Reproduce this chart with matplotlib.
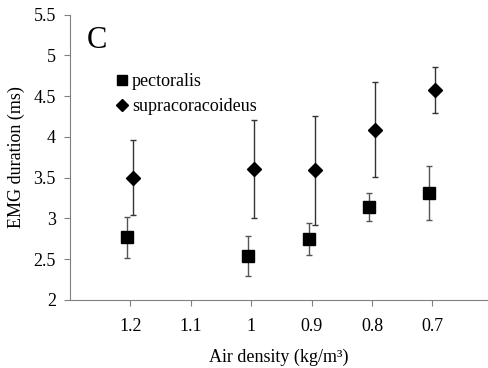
import numpy as np
import matplotlib
matplotlib.use("Agg")
import matplotlib.pyplot as plt
from matplotlib.lines import Line2D

plt.rcParams['font.family'] = ['Liberation Serif', 'DejaVu Serif']

# Datos
densidad = [1.2, 1.0, 0.9, 0.8, 0.7]
pect = [2.77, 2.54, 2.75, 3.14, 3.31]
pect_err = [0.25, 0.25, 0.20, 0.17, 0.33]
supra = [3.50, 3.61, 3.59, 4.09, 4.58]
supra_err = [0.46, 0.60, 0.67, 0.58, 0.28]
xticks = [1.2, 1.1, 1.0, 0.9, 0.8, 0.7]
xticklabels = ["1.2", "1.1", "1", "0.9", "0.8", "0.7"]
yticks = [2, 2.5, 3, 3.5, 4, 4.5, 5, 5.5]
yticklabels = ["2", "2.5", "3", "3.5", "4", "4.5", "5", "5.5"]

fig = plt.figure(figsize=(4.88, 3.68), dpi=100)
ax = fig.add_axes([0.143, 0.185, 0.857, 0.775])

x = np.array(densidad)
# pequeño corrimiento para que no se encimen
ax.errorbar(x + 0.005, pect, yerr=pect_err, fmt='s', color='black', ms=8,
            ecolor='#555555', elinewidth=1, capsize=2, capthick=1)
ax.errorbar(x - 0.005, supra, yerr=supra_err, fmt='D', color='black', ms=7,
            ecolor='#333333', elinewidth=1, capsize=2, capthick=1)

ax.set_xlim(1.3, 0.608)
ax.set_ylim(2, 5.5)
ax.set_xticks(xticks)
ax.set_xticklabels(xticklabels)
ax.set_yticks(yticks)
ax.set_yticklabels(yticklabels)

for s in ['top', 'right']:
    ax.spines[s].set_visible(False)
for s in ['left', 'bottom']:
    ax.spines[s].set_color('#808080')
ax.tick_params(colors='#808080', labelcolor='black', labelsize=13, length=4)
ax.tick_params(axis='x', pad=9)
ax.tick_params(axis='y', pad=6)

ax.set_xlabel("Air density (kg/m³)", fontsize=13, labelpad=10)
ax.set_ylabel("EMG duration (ms)", fontsize=13, labelpad=6)

ax.text(0.04, 0.96, "C", transform=ax.transAxes, fontsize=22, va='top')

handles = [Line2D([], [], ls='none', marker='s', color='black', ms=7),
           Line2D([], [], ls='none', marker='D', color='black', ms=6)]
ax.legend(handles, ['pectoralis', 'supracoracoideus'], loc='upper left',
          bbox_to_anchor=(0.095, 0.82), frameon=False, handlelength=0.6,
          handletextpad=0.25, fontsize=13, labelspacing=0.45, borderaxespad=0)

fig.savefig("out.png", dpi=100)
